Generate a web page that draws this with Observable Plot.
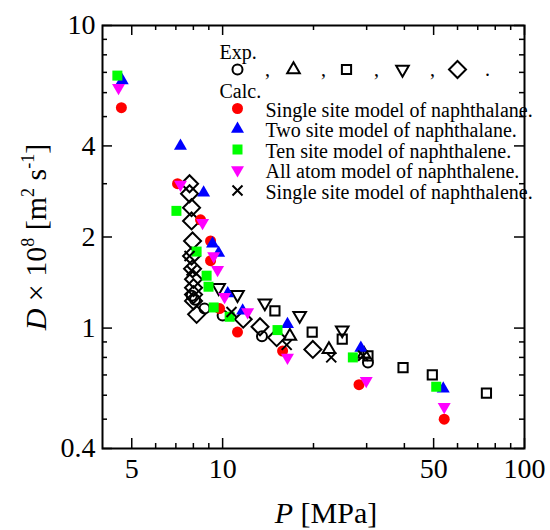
<!DOCTYPE html>
<html>
<head>
<meta charset="utf-8">
<script src="https://cdn.jsdelivr.net/npm/d3@7"></script>
<script src="https://cdn.jsdelivr.net/npm/@observablehq/plot@0.6"></script>
<style>
  html, body { margin: 0; padding: 0; background: white; }
  #chart { width: 550px; height: 530px; }
</style>
</head>
<body>
<div id="chart"></div>
<script>
// ---- Data: [P (MPa), D (1e-8 m^2/s)] ----
// Experimental (open symbols)
const expCircle = [[7.9,1.28],[8.1,1.24],[8.71,1.16],[10.0,1.10],[13.5,0.94],[30.3,0.77]];
const expTriangle = [[16.7,0.94],[22.5,0.85],[29.4,0.82]];
const expSquare = [[14.9,1.14],[19.8,0.97],[24.9,0.92],[30.3,0.81],[39.6,0.74],[49.5,0.70],[74.8,0.61]];
const expDownTriangle = [[9.7,1.36],[11.2,1.29],[13.8,1.21],[18.0,1.10],[24.9,0.985]];
const expDiamond = [[7.77,3.0],[7.77,2.78],[7.89,2.50],[7.89,2.26],[7.95,1.94],[7.89,1.73],[7.95,1.57],[8.01,1.45],[8.01,1.36],[8.01,1.29],[8.01,1.23],[8.2,1.11],[11.7,1.07],[13.3,1.01],[15.1,0.93],[19.9,0.85]];
// Calculated (filled symbols)
const calcSingleSiteNaphthalane = [[4.62,5.35],[7.09,3.0],[8.45,2.28],[9.12,1.94],[9.12,1.67],[9.77,1.16],[11.2,0.97],[15.8,0.84],[28.3,0.65],[54.2,0.50]];
const calcTwoSite = [[4.65,6.58],[7.25,4.0],[8.65,2.80],[9.26,1.90],[9.7,1.77],[10.4,1.30],[11.65,1.14],[16.4,1.03],[28.7,0.86],[53.8,0.63]];
const calcTenSite = [[4.48,6.83],[7.03,2.44],[8.2,1.79],[8.85,1.49],[8.98,1.37],[9.34,1.17],[10.55,1.09],[15.2,0.985],[27.0,0.80],[51.0,0.64]];
const calcAllAtom = [[4.52,6.23],[7.25,2.98],[8.58,2.23],[9.34,1.73],[9.62,1.56],[10.15,1.27],[12.1,1.13],[16.4,0.80],[29.9,0.67],[54.2,0.55]];
const calcSingleSiteNaphthalene = [[7.77,1.73],[7.89,1.55],[10.7,1.13],[16.3,0.88],[22.9,0.80],[29.2,0.81]];

// Ticks
const xMajor = [5, 10, 50, 100];
const xMinor = [6, 7, 8, 9, 20, 30, 40, 60, 70, 80, 90];
const yMajor = [0.4, 1, 2, 4, 10];
const yMinor = [0.5, 0.6, 0.7, 0.8, 0.9, 3, 5, 6, 7, 8, 9];

// Legend texts
const expLabel = "Exp.";
const calcLabel = "Calc.";
const calcLabels = [
  "Single site model of naphthalane.",
  "Two site model of naphthalane.",
  "Ten site model of naphthalene.",
  "All atom model of naphthalene.",
  "Single site model of naphthalene."
];

// ---- Symbols ----
const rad = (size) => Math.sqrt(size / Math.PI);
const symCircle = {draw(c, s) { const r = rad(s); c.moveTo(r, 0); c.arc(0, 0, r, 0, 2 * Math.PI); c.closePath(); }};
const symSquare = {draw(c, s) { const r = rad(s); c.rect(-r, -r, 2 * r, 2 * r); }};
const symDiamond = {draw(c, s) { const r = rad(s); c.moveTo(0, -r); c.lineTo(r, 0); c.lineTo(0, r); c.lineTo(-r, 0); c.closePath(); }};
const triangle = (dir) => ({draw(c, s) { const r = rad(s); const h = r * Math.sqrt(3);
  c.moveTo(0, -dir * 2 * h / 3); c.lineTo(r, dir * h / 3); c.lineTo(-r, dir * h / 3); c.closePath(); }});
const symUp = triangle(1), symDown = triangle(-1);
const symTimes = {draw(c, s) { const r = rad(s); c.moveTo(-r, -r); c.lineTo(r, r); c.moveTo(r, -r); c.lineTo(-r, r); }};

// ---- Layout ----
const W = 550, H = 530, mL = 102, mR = 26, mT = 25, mB = 82;
const fW = W - mL - mR, fH = H - mT - mB;
const majLen = 10, minLen = 5;
const font = "Liberation Serif, Times New Roman, serif";

const P = d => d[0], D = d => d[1];
const open = (data, symbol, r) => Plot.dot(data, {x: P, y: D, symbol, r, fill: "none", stroke: "black", strokeWidth: 2});
const filled = (data, symbol, r, color) => Plot.dot(data, {x: P, y: D, symbol, r, fill: color, stroke: "none"});

const calcSpecs = [
  {sym: symCircle, r: 5.5, color: "#ff0000"},
  {sym: symUp, r: 6.5, color: "#0000ff"},
  {sym: symSquare, r: 5, color: "#00ff00"},
  {sym: symDown, r: 6.5, color: "#ff00ff"},
  {sym: symTimes, r: 5, color: null}
];
const expSpecs = [
  {sym: symCircle, r: 5, dx: 135},
  {sym: symUp, r: 6.3, dx: 191},
  {sym: symSquare, r: 4.6, dx: 244},
  {sym: symDown, r: 6.3, dx: 300},
  {sym: symDiamond, r: 8.5, dx: 355}
];

const legendText = (txt, dx, dy, anchor = "start") =>
  Plot.text([txt], {frameAnchor: "top-left", dx, dy, text: d => d, textAnchor: anchor, lineAnchor: "middle", fontSize: 20});

const legendMarks = [];
legendMarks.push(legendText(expLabel, 117, 27));
legendMarks.push(legendText(calcLabel, 117, 66));
expSpecs.forEach((s, i) => {
  legendMarks.push(Plot.dot([0], {frameAnchor: "top-left", dx: s.dx, dy: 44, symbol: s.sym, r: s.r, fill: "none", stroke: "black", strokeWidth: 2}));
  legendMarks.push(legendText(i < 4 ? "," : ".", s.dx + 30, 44, "middle"));
});
calcSpecs.forEach((s, i) => {
  const dy = 83 + i * 20.5;
  legendMarks.push(s.color
    ? Plot.dot([0], {frameAnchor: "top-left", dx: 135, dy, symbol: s.sym, r: s.r, fill: s.color})
    : Plot.dot([0], {frameAnchor: "top-left", dx: 135, dy, symbol: s.sym, r: s.r, fill: "none", stroke: "black", strokeWidth: 2}));
  legendMarks.push(legendText(calcLabels[i], 163, dy + 2));
});

const chart = Plot.plot({
  width: W, height: H,
  marginLeft: mL, marginRight: mR, marginTop: mT, marginBottom: mB,
  style: {fontFamily: font, fontSize: "28px", background: "white", color: "black"},
  x: {type: "log", domain: [4, 100]},
  y: {type: "log", domain: [0.4, 10]},
  marks: [
    // inward ticks on all four sides
    Plot.ruleX(xMajor, {insetTop: fH - majLen, strokeWidth: 1.5}),
    Plot.ruleX(xMinor, {insetTop: fH - minLen, strokeWidth: 1.5}),
    Plot.ruleX(xMajor, {insetBottom: fH - majLen, strokeWidth: 1.5}),
    Plot.ruleX(xMinor, {insetBottom: fH - minLen, strokeWidth: 1.5}),
    Plot.ruleY(yMajor, {insetRight: fW - majLen, strokeWidth: 1.5}),
    Plot.ruleY(yMinor, {insetRight: fW - minLen, strokeWidth: 1.5}),
    Plot.ruleY(yMajor, {insetLeft: fW - majLen, strokeWidth: 1.5}),
    Plot.ruleY(yMinor, {insetLeft: fW - minLen, strokeWidth: 1.5}),
    Plot.frame({strokeWidth: 2}),
    Plot.axisX({ticks: xMajor, tickSize: 0, tickPadding: 10, tickFormat: d => String(d), label: null, fontSize: 28}),
    Plot.axisY({ticks: yMajor, tickSize: 0, tickPadding: 7, tickFormat: d => String(d), label: null, fontSize: 28}),
    // experimental
    open(expCircle, symCircle, 5),
    open(expTriangle, symUp, 6.3),
    open(expSquare, symSquare, 4.6),
    open(expDownTriangle, symDown, 6.3),
    open(expDiamond, symDiamond, 8.5),
    // calculated
    filled(calcSingleSiteNaphthalane, symCircle, 5.5, "#ff0000"),
    filled(calcTwoSite, symUp, 6.5, "#0000ff"),
    filled(calcTenSite, symSquare, 5, "#00ff00"),
    filled(calcAllAtom, symDown, 6.5, "#ff00ff"),
    open(calcSingleSiteNaphthalene, symTimes, 5),
    ...legendMarks
  ]
});

document.getElementById("chart").appendChild(chart);

// Axis titles with italic variables and superscripts
const svg = d3.select(chart.tagName.toLowerCase() === "svg" ? chart : chart.querySelector("svg"));
const xl = svg.append("text")
  .attr("x", 326).attr("y", 523)
  .attr("text-anchor", "middle")
  .style("font-family", font).style("font-size", "30px").attr("fill", "black");
xl.append("tspan").style("font-style", "italic").text("P");
xl.append("tspan").text(" [MPa]");

const yl = svg.append("text")
  .attr("transform", "translate(46,237) rotate(-90)")
  .attr("text-anchor", "middle")
  .style("font-family", font).style("font-size", "30px").attr("fill", "black");
yl.append("tspan").style("font-style", "italic").text("D");
yl.append("tspan").text(" × 10");
yl.append("tspan").attr("dy", -12).style("font-size", "18px").text("8");
yl.append("tspan").attr("dy", 12).text(" [m");
yl.append("tspan").attr("dy", -12).style("font-size", "18px").text("2");
yl.append("tspan").attr("dy", 12).text(" s");
yl.append("tspan").attr("dy", -12).style("font-size", "18px").text("-1");
yl.append("tspan").attr("dy", 12).text("]");
</script>
</body>
</html>
